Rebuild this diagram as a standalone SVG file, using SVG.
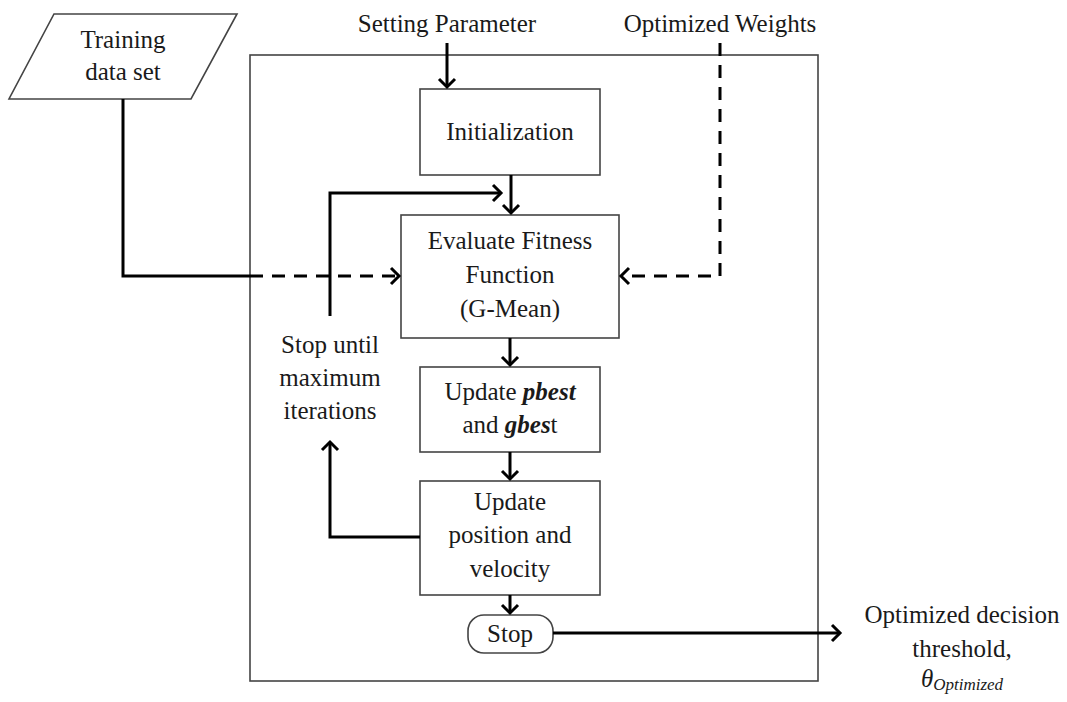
<svg xmlns="http://www.w3.org/2000/svg" width="1067" height="702" viewBox="0 0 1067 702">
<style>
.box{fill:#fff;stroke:#444;stroke-width:1.6}
.frame{fill:none;stroke:#444;stroke-width:1.6}
.t{font-family:"Liberation Serif",serif;font-size:25px;fill:#1a1a1a;text-anchor:middle}
.c{fill:none;stroke:#000;stroke-width:3}
.d{stroke-dasharray:13 9}
.bi{font-weight:bold;font-style:italic}
</style>
<defs>
<marker id="ah" markerUnits="userSpaceOnUse" markerWidth="20" markerHeight="20" refX="12" refY="10" orient="auto">
<path d="M4,2 L12,10 L4,18" fill="none" stroke="#000" stroke-width="3"/>
</marker>
</defs>
<rect class="frame" x="250" y="55" width="568" height="626"/>
<g id="training">
<polygon class="box" points="54,14 237,14 191,99 9,99"/>
<text class="t" x="123" y="48">Training</text>
<text class="t" x="123" y="80">data set</text>
</g>
<g id="setting"><text class="t" x="447" y="32">Setting Parameter</text></g>
<g id="weights"><text class="t" x="720" y="32">Optimized Weights</text></g>
<g id="init">
<rect class="box" x="420" y="89" width="180" height="86"/>
<text class="t" x="510" y="140">Initialization</text>
</g>
<g id="evaluate">
<rect class="box" x="401" y="215" width="218" height="123"/>
<text class="t" x="510" y="249">Evaluate Fitness</text>
<text class="t" x="510" y="283">Function</text>
<text class="t" x="510" y="317">(G-Mean)</text>
</g>
<g id="update-best">
<rect class="box" x="420" y="367" width="180" height="85"/>
<text class="t" x="510" y="400">Update <tspan class="bi">pbest</tspan></text>
<text class="t" x="510" y="433">and <tspan class="bi">gbes</tspan>t</text>
</g>
<g id="update-pos">
<rect class="box" x="420" y="481" width="180" height="114"/>
<text class="t" x="510" y="510">Update</text>
<text class="t" x="510" y="543">position and</text>
<text class="t" x="510" y="577">velocity</text>
</g>
<g id="stop">
<rect class="box" x="468" y="615" width="85" height="38" rx="16"/>
<text class="t" x="510" y="642">Stop</text>
</g>
<g id="loop-label">
<text class="t" x="330" y="353">Stop until</text>
<text class="t" x="330" y="386">maximum</text>
<text class="t" x="330" y="419">iterations</text>
</g>
<g id="output">
<text class="t" x="962" y="623">Optimized decision</text>
<text class="t" x="962" y="657">threshold,</text>
<text class="t" x="962" y="687" font-style="italic">θ<tspan font-size="17" dy="3">Optimized</tspan></text>
</g>
<g id="connectors">
<path class="c" d="M447,43 V87" marker-end="url(#ah)"/>
<path class="c" d="M511,175 V213" marker-end="url(#ah)"/>
<path class="c" d="M510,338 V365" marker-end="url(#ah)"/>
<path class="c" d="M510,452 V479" marker-end="url(#ah)"/>
<path class="c" d="M510,595 V613" marker-end="url(#ah)"/>
<path class="c" d="M553,633 H840" marker-end="url(#ah)"/>
<path class="c" d="M420,537 H330 V442" marker-end="url(#ah)"/>
<path class="c" d="M330,316 V193 H501" marker-end="url(#ah)"/>
<path class="c" d="M123,99 V276 H250"/>
<path class="c d" d="M250,276 H399" marker-end="url(#ah)"/>
<path class="c d" d="M720,43 V276 H621" marker-end="url(#ah)"/>
</g>
</svg>
